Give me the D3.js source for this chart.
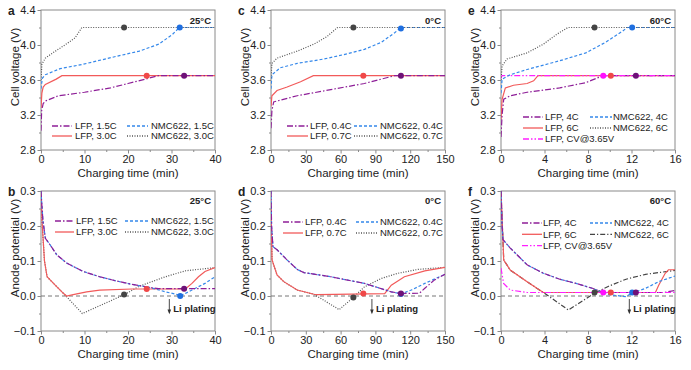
<!DOCTYPE html>
<html>
<head>
<meta charset="utf-8">
<script src="https://cdn.jsdelivr.net/npm/d3@7"></script>
<style>
  body { margin: 0; background: #fff; }
  svg { display: block; font-family: "Liberation Sans", Arial, sans-serif; }
</style>
</head>
<body>
<script>
// ---- data (time in min, voltage in V) ----
// panel a: 25°C cell voltage
const a_lfp15 = [[0,3.02],[0.15,3.25],[0.5,3.33],[1,3.36],[4,3.42],[10,3.46],[16,3.51],[20,3.56],[24,3.61],[27,3.65],[40,3.65]];
const a_lfp30 = [[0,3.28],[0.2,3.45],[0.5,3.52],[1,3.55],[3.5,3.61],[4.8,3.65],[40,3.65]];
const a_nmc15 = [[0,3.5],[0.3,3.62],[1,3.66],[4.4,3.73],[9.7,3.78],[17.3,3.87],[22.6,3.93],[27.1,4.01],[30.2,4.12],[31.8,4.2],[40,4.2]];
const a_nmc30 = [[0,3.6],[0.2,3.78],[1,3.85],[3,3.92],[5.5,4.0],[7.8,4.08],[9.4,4.2],[40,4.2]];
const a_marks = [["nmc30",19.1,4.2],["nmc15",31.9,4.2],["lfp30",24.3,3.65],["lfp15",32.9,3.65]];

// panel b: 25°C anode potential
const b_lfp15 = [[0,0.3],[0.2,0.26],[0.45,0.215],[1,0.165],[2.1,0.146],[3.6,0.118],[5.9,0.094],[9.7,0.07],[13.5,0.055],[17.3,0.043],[21,0.033],[24.8,0.025],[27,0.021],[40,0.021]];
const b_lfp30 = [[0,0.29],[0.3,0.2],[0.8,0.1],[1.4,0.055],[2.1,0.046],[3.6,0.027],[5.2,0.007],[5.9,0.0],[7.4,0.004],[10.5,0.012],[13.5,0.017],[21,0.02],[33.2,0.02],[34.7,0.036],[36.2,0.055],[37.7,0.07],[40,0.081]];
const b_nmc15 = [[0,0.3],[0.2,0.26],[0.45,0.215],[1,0.165],[2.1,0.146],[3.6,0.118],[5.9,0.094],[9.7,0.07],[13.5,0.055],[17.3,0.043],[21,0.033],[24.8,0.025],[28.6,0.012],[31.7,0.003],[32,0.0],[34.7,0.017],[37.7,0.036],[40,0.055]];
const b_nmc30 = [[0,0.29],[0.3,0.2],[0.8,0.1],[1.4,0.055],[2.1,0.046],[3.6,0.027],[5.2,0.007],[9.5,-0.05],[19,0.003],[22.6,0.028],[28.6,0.055],[33.2,0.072],[40,0.081]];
const b_marks = [["nmc30",19.1,0.004],["lfp30",24.3,0.02],["nmc15",32,0.0],["lfp15",32.9,0.021]];

// panel c: 0°C cell voltage
const c_lfp04 = [[0,3.05],[0.8,3.25],[2.3,3.35],[22.6,3.42],[51.5,3.49],[80.5,3.56],[95,3.61],[106.6,3.65],[150,3.65]];
const c_lfp07 = [[0,3.3],[0.8,3.42],[5.2,3.48],[13.9,3.52],[25.5,3.58],[36.5,3.65],[150,3.65]];
const c_nmc04 = [[0,3.5],[0.8,3.66],[8,3.74],[22.6,3.79],[45.7,3.84],[66,3.9],[80.5,3.95],[95,4.03],[106.6,4.14],[112,4.2],[150,4.2]];
const c_nmc07 = [[0,3.62],[0.8,3.79],[5.2,3.85],[22.6,3.93],[37,4.01],[48.6,4.1],[57.3,4.2],[150,4.2]];
const c_marks = [["nmc07",71,4.2],["nmc04",112,4.19],["lfp07",79.6,3.65],["lfp04",112,3.65]];

// panel d: 0°C anode potential
const d_lfp04 = [[0,0.3],[0.5,0.2],[1.7,0.141],[5.2,0.132],[13.9,0.103],[22.6,0.076],[28.4,0.067],[51.5,0.055],[80.5,0.036],[103.7,0.012],[112,0.007],[128,0.008],[132.6,0.022],[141,0.046],[150,0.062]];
const d_lfp07 = [[0,0.25],[0.9,0.103],[5.2,0.06],[11,0.041],[22.6,0.017],[37,0.005],[40,0.004],[98,0.007],[103.7,0.031],[115,0.055],[132.6,0.072],[150,0.082]];
const d_nmc04 = [[0,0.3],[0.5,0.2],[1.7,0.141],[5.2,0.132],[13.9,0.103],[22.6,0.076],[28.4,0.067],[51.5,0.055],[80.5,0.036],[103.7,0.012],[112,0.006],[121,0.017],[132.6,0.036],[150,0.062]];
const d_nmc07 = [[0,0.25],[0.9,0.103],[5.2,0.06],[11,0.041],[22.6,0.017],[37,0.005],[58.8,-0.039],[71,-0.004],[80.5,0.026],[95,0.05],[109.5,0.065],[126.8,0.076],[150,0.082]];
const d_marks = [["nmc07",71,-0.004],["lfp07",79.6,0.007],["nmc04",112,0.006],["lfp04",112,0.007]];

// panel e: 60°C cell voltage
const e_lfp4 = [[0,2.95],[0.1,3.2],[0.25,3.38],[0.85,3.42],[2.4,3.46],[5.4,3.51],[7.8,3.57],[9,3.63],[9.6,3.65],[16,3.65]];
const e_lfp6 = [[0,3.15],[0.1,3.38],[0.4,3.51],[1.15,3.54],[2.4,3.56],[3,3.59],[3.4,3.65],[16,3.65]];
const e_cv = [[0,3.62],[0.1,3.65],[16,3.65]];
const e_nmc4 = [[0,3.45],[0.1,3.61],[0.85,3.66],[2.4,3.72],[5.4,3.82],[7.8,3.91],[9.6,4.03],[11.2,4.16],[11.6,4.2],[16,4.2]];
const e_nmc6 = [[0,3.6],[0.1,3.76],[0.55,3.84],[2.4,3.91],[3.9,4.01],[5.1,4.12],[6.15,4.2],[16,4.2]];
const e_marks = [["nmc6",8.6,4.2],["nmc4",12.06,4.2],["cv",9.4,3.65],["lfp6",10.1,3.65],["lfp4",12.4,3.65]];

// panel f: 60°C anode potential
const f_lfp4 = [[0,0.3],[0.1,0.2],[0.18,0.161],[0.85,0.137],[2.4,0.089],[3.9,0.065],[5.4,0.048],[6.9,0.036],[8.4,0.022],[9.3,0.011],[10,0.01],[15,0.01],[16,0.016]];
const f_lfp6 = [[0,0.3],[0.25,0.103],[0.85,0.074],[2.4,0.041],[3.3,0.022],[3.9,0.01],[14.2,0.01],[14.5,0.031],[15.1,0.065],[15.4,0.075],[16,0.075]];
const f_cv = [[0,0.08],[0.24,0.036],[0.85,0.017],[2.4,0.01],[16,0.01]];
const f_nmc4 = [[0,0.3],[0.1,0.2],[0.18,0.161],[0.85,0.137],[2.4,0.089],[3.9,0.065],[5.4,0.048],[6.9,0.036],[8.4,0.022],[9.9,0.004],[11.5,-0.002],[12,0.008],[13.3,0.022],[14.5,0.041],[16,0.057]];
const f_nmc6 = [[0,0.3],[0.25,0.103],[0.85,0.074],[2.4,0.041],[3.3,0.022],[3.9,0.01],[6.2,-0.04],[8.6,0.008],[9.9,0.028],[11.5,0.048],[13.3,0.062],[16,0.073]];
const f_marks = [["nmc6",8.6,0.01],["cv",9.4,0.01],["lfp6",10.1,0.01],["nmc4",12.06,0.01],["lfp4",12.4,0.01]];

// tick values
const vTicks = [2.8, 3.2, 3.6, 4.0, 4.4];
const pTicks = [-0.1, 0.0, 0.1, 0.2, 0.3];
const t40 = [0, 10, 20, 30, 40];
const t150 = [0, 30, 60, 90, 120, 150];
const t16 = [0, 4, 8, 12, 16];

// ---- styles ----
const st = {
  lfpA: {c: "#8e1f98", m: "#6e1178", dash: "6,2,1.5,2"},
  lfpB: {c: "#f25a5a", m: "#f04848", dash: null},
  nmcA: {c: "#3588ea", m: "#1f6fe0", dash: "3,2"},
  nmcB: {c: "#555", m: "#444", dash: "1,1.5"},
  nmcBf: {c: "#444", m: "#444", dash: "5,2,1.2,2"},
  cv: {c: "#ff20ff", m: "#ff10ff", dash: "6,2,1.5,2,1.5,2"}
};

const W = 691, H = 370;
const cols = [41, 271, 501], pw = 174;
const rows = [{top: 10, h: 140}, {top: 191, h: 140}];

const panels = [
  {id: "a", col: 0, row: 0, temp: "25°C", xmax: 40, xt: t40, xm: 5,
   series: {lfp15: [a_lfp15, "lfpA"], lfp30: [a_lfp30, "lfpB"], nmc15: [a_nmc15, "nmcA"], nmc30: [a_nmc30, "nmcB"]},
   order: ["lfp30", "lfp15", "nmc15", "nmc30"], marks: a_marks,
   legend: {y: 116, dy: 10, c1: [11, 31, 34], c2: [86, 107, 110],
     items: [["LFP, 1.5C", "lfpA", 0, 0], ["NMC622, 1.5C", "nmcA", 1, 0], ["LFP, 3.0C", "lfpB", 0, 1], ["NMC622, 3.0C", "nmcB", 1, 1]]}},
  {id: "b", col: 0, row: 1, temp: "25°C", xmax: 40, xt: t40, xm: 5, plate: 29.5,
   series: {lfp15: [b_lfp15, "lfpA"], lfp30: [b_lfp30, "lfpB"], nmc15: [b_nmc15, "nmcA"], nmc30: [b_nmc30, "nmcB"]},
   order: ["nmc30", "lfp30", "nmc15", "lfp15"], marks: b_marks,
   legend: {y: 30, dy: 11, c1: [14, 33, 35], c2: [84, 108, 110],
     items: [["LFP, 1.5C", "lfpA", 0, 0], ["NMC622, 1.5C", "nmcA", 1, 0], ["LFP, 3.0C", "lfpB", 0, 1], ["NMC622, 3.0C", "nmcB", 1, 1]]}},
  {id: "c", col: 1, row: 0, temp: "0°C", xmax: 150, xt: t150, xm: 15,
   series: {lfp04: [c_lfp04, "lfpA"], lfp07: [c_lfp07, "lfpB"], nmc04: [c_nmc04, "nmcA"], nmc07: [c_nmc07, "nmcB"]},
   order: ["lfp07", "lfp04", "nmc04", "nmc07"], marks: c_marks,
   legend: {y: 116, dy: 10, c1: [16, 37, 39], c2: [83, 107, 109],
     items: [["LFP, 0.4C", "lfpA", 0, 0], ["NMC622, 0.4C", "nmcA", 1, 0], ["LFP, 0.7C", "lfpB", 0, 1], ["NMC622, 0.7C", "nmcB", 1, 1]]}},
  {id: "d", col: 1, row: 1, temp: "0°C", xmax: 150, xt: t150, xm: 15, plate: 87,
   series: {lfp04: [d_lfp04, "lfpA"], lfp07: [d_lfp07, "lfpB"], nmc04: [d_nmc04, "nmcA"], nmc07: [d_nmc07, "nmcB"]},
   order: ["nmc07", "lfp07", "nmc04", "lfp04"], marks: d_marks,
   legend: {y: 31, dy: 11, c1: [12, 32, 34], c2: [85, 107, 109],
     items: [["LFP, 0.4C", "lfpA", 0, 0], ["NMC622, 0.4C", "nmcA", 1, 0], ["LFP, 0.7C", "lfpB", 0, 1], ["NMC622, 0.7C", "nmcB", 1, 1]]}},
  {id: "e", col: 2, row: 0, temp: "60°C", xmax: 16, xt: t16, xm: 2,
   series: {lfp4: [e_lfp4, "lfpA"], lfp6: [e_lfp6, "lfpB"], cv: [e_cv, "cv"], nmc4: [e_nmc4, "nmcA"], nmc6: [e_nmc6, "nmcB"]},
   order: ["lfp6", "lfp4", "cv", "nmc4", "nmc6"], marks: e_marks,
   legend: {y: 107, dy: 11, c1: [22, 42, 44], c2: [89, 111, 112],
     items: [["LFP, 4C", "lfpA", 0, 0], ["NMC622, 4C", "nmcA", 1, 0], ["LFP, 6C", "lfpB", 0, 1], ["NMC622, 6C", "nmcB", 1, 1], ["LFP, CV@3.65V", "cv", 0, 2]]}},
  {id: "f", col: 2, row: 1, temp: "60°C", xmax: 16, xt: t16, xm: 2, plate: 11.8,
   series: {lfp4: [f_lfp4, "lfpA"], lfp6: [f_lfp6, "lfpB"], cv: [f_cv, "cv"], nmc4: [f_nmc4, "nmcA"], nmc6: [f_nmc6, "nmcBf"]},
   order: ["nmc6", "lfp6", "nmc4", "lfp4", "cv"], marks: f_marks,
   legend: {y: 32, dy: 11.3, c1: [21, 41, 42], c2: [89, 111, 113],
     items: [["LFP, 4C", "lfpA", 0, 0], ["NMC622, 4C", "nmcA", 1, 0], ["LFP, 6C", "lfpB", 0, 1], ["NMC622, 6C", "nmcBf", 1, 1], ["LFP, CV@3.65V", "cv", 0, 2]]}}
];

const svg = d3.select("body").append("svg")
    .attr("width", W)
    .attr("height", H);

const ink = "#222", frame = "#8a8a8a";

panels.forEach(p => {
  const L = cols[p.col], T = rows[p.row].top, ph = rows[p.row].h;
  const isV = p.row === 0;
  const x = d3.scaleLinear().domain([0, p.xmax]).range([L, L + pw]);
  const y = isV ? d3.scaleLinear().domain([2.8, 4.4]).range([T + ph, T])
                : d3.scaleLinear().domain([-0.1, 0.3]).range([T + ph, T]);
  const g = svg.append("g");

  // axes with minor ticks
  const minorX = d3.range(p.xm, p.xmax, p.xm * 2);
  const minorY = isV ? [3.0, 3.4, 3.8, 4.2] : [-0.05, 0.05, 0.15, 0.25];
  g.append("g").attr("transform", `translate(0,${T + ph})`)
      .call(d3.axisBottom(x).tickValues(minorX).tickSize(2).tickFormat(""));
  g.append("g").attr("transform", `translate(0,${T + ph})`)
      .call(d3.axisBottom(x).tickValues(p.xt).tickSize(3.5).tickPadding(2).tickFormat(d3.format("d")));
  g.append("g").attr("transform", `translate(${L},0)`)
      .call(d3.axisLeft(y).tickValues(minorY).tickSize(2).tickFormat(""));
  g.append("g").attr("transform", `translate(${L},0)`)
      .call(d3.axisLeft(y).tickValues(isV ? vTicks : pTicks).tickSize(3.5).tickPadding(2)
        .tickFormat(isV ? d3.format(".1f") : d3.format(".1f")));
  g.selectAll(".domain").remove();
  g.selectAll(".tick line").attr("stroke", frame);
  g.selectAll(".tick text").attr("fill", ink).attr("font-size", 11)
      .attr("font-family", "Liberation Sans, Arial, sans-serif");

  // frame
  g.append("rect").attr("x", L).attr("y", T).attr("width", pw).attr("height", ph)
      .attr("fill", "none").attr("stroke", frame).attr("stroke-width", 1);

  if (!isV) {
    g.append("line").attr("x1", L).attr("x2", L + pw).attr("y1", y(0)).attr("y2", y(0))
        .attr("stroke", "#777").attr("stroke-width", 1).attr("stroke-dasharray", "4,3");
  }

  const clipId = "clip" + p.id;
  svg.append("clipPath").attr("id", clipId).append("rect")
      .attr("x", L).attr("y", T).attr("width", pw).attr("height", ph);

  const line = d3.line().x(d => x(d[0])).y(d => y(d[1]));
  const lines = g.append("g").attr("clip-path", `url(#${clipId})`);
  p.order.forEach(k => {
    const [data, sk] = p.series[k];
    lines.append("path").datum(data)
        .attr("d", line)
        .attr("fill", "none")
        .attr("stroke", st[sk].c)
        .attr("stroke-width", 1.2)
        .attr("stroke-dasharray", st[sk].dash);
  });

  g.append("g").selectAll("circle").data(p.marks).join("circle")
      .attr("cx", d => x(d[1]))
      .attr("cy", d => y(d[2]))
      .attr("r", 3)
      .attr("fill", d => st[p.series[d[0]][1]].m);

  // legend
  const lg = p.legend;
  lg.items.forEach(([label, sk, c, r]) => {
    const cc = c === 0 ? lg.c1 : lg.c2;
    const yy = T + lg.y + r * lg.dy;
    g.append("line").attr("x1", L + cc[0]).attr("x2", L + cc[1]).attr("y1", yy).attr("y2", yy)
        .attr("stroke", st[sk].c).attr("stroke-width", 1.3).attr("stroke-dasharray", st[sk].dash);
    g.append("text").attr("x", L + cc[2]).attr("y", yy).attr("dy", "0.35em")
        .attr("font-size", 9.5).attr("fill", ink).text(label);
  });

  // temperature
  g.append("text").attr("x", L + pw - 4).attr("y", T + (isV ? 13.5 : 12.5))
      .attr("text-anchor", "end").attr("font-size", 9.5).attr("font-weight", "bold")
      .attr("fill", ink).text(p.temp);

  // Li plating
  if (p.plate !== undefined) {
    const px = x(p.plate);
    g.append("line").attr("x1", px).attr("x2", px).attr("y1", y(0) + 3).attr("y2", y(-0.047))
        .attr("stroke", "#333").attr("stroke-width", 0.9);
    g.append("path").attr("d", `M${px - 1.8},${y(-0.047) - 3}L${px},${y(-0.052)}L${px + 1.8},${y(-0.047) - 3}Z`)
        .attr("fill", "#333");
    g.append("text").attr("x", px + 4).attr("y", y(-0.036)).attr("dy", "0.35em")
        .attr("font-size", 9.5).attr("font-weight", "bold").attr("fill", ink).text("Li plating");
  }

  // axis titles
  g.append("text").attr("x", L + pw / 2).attr("y", T + ph + 26.5)
      .attr("text-anchor", "middle").attr("font-size", 11.5).attr("fill", ink)
      .text("Charging time (min)");
  g.append("text")
      .attr("transform", `translate(${L - 22},${T + 57}) rotate(-90)`)
      .attr("text-anchor", "middle").attr("font-size", 11.5).attr("fill", ink)
      .text(isV ? "Cell voltage (V)" : "Anode potential (V)");

  // panel letter
  g.append("text").attr("x", L - 33).attr("y", T + 5)
      .attr("font-size", 12).attr("font-weight", "bold").attr("fill", ink).text(p.id);
});
</script>
</body>
</html>
